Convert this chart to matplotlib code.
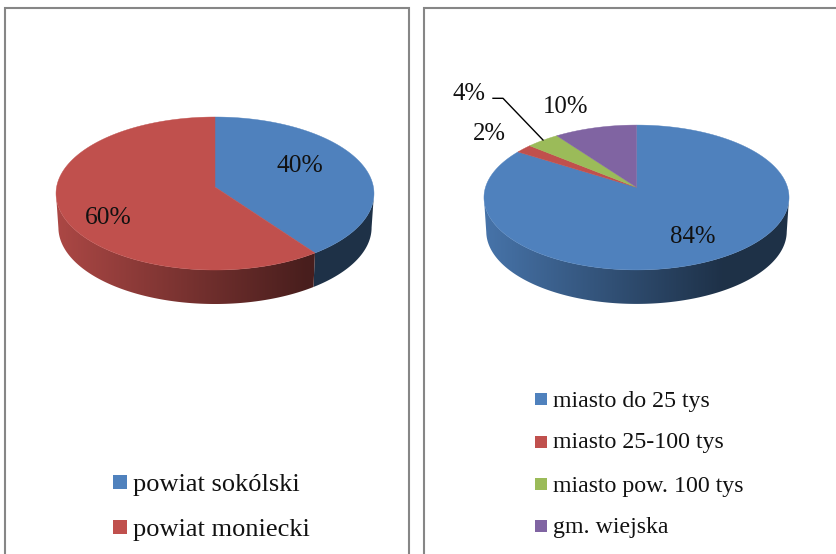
import numpy as np
import matplotlib
matplotlib.use("Agg")
import matplotlib.pyplot as plt
from matplotlib.patches import Polygon, Rectangle

plt.rcParams['font.family'] = ['Liberation Serif', 'DejaVu Serif']

# Data
left_names = ["powiat sokólski", "powiat moniecki"]
left_values = [40, 60]
left_colors = ["#4f81bd", "#c0504d"]

right_names = ["miasto do 25 tys", "miasto 25-100 tys", "miasto pow. 100 tys", "gm. wiejska"]
right_values = [84, 2, 4, 10]
right_colors = ["#4f81bd", "#c0504d", "#9bbb59", "#8064a2"]

W = 837
H = 554
BORDER = "#868686"
DEPTH = 34
BOTTOM_SCALE = 0.985  # lower rim is a bit narrower, perspective

fig = plt.figure(figsize=(W / 100, H / 100), dpi=100, facecolor="white")
# whole figure is one axes in pixel coordinates, y goes down
ax = fig.add_axes([0, 0, 1, 1])


# theta is clockwise from 12 o'clock, a is the perspective tilt
def project(theta, cx, cy, rx, ry, a):
    u = np.sin(theta)
    v = np.cos(theta)
    w = 1 + a * v
    return cx + rx * u / w, cy - ry * v / w


def shade(frac):
    # side wall gets darker to the right, flat after about 3/4 of the width
    return np.interp(frac, [0, 0.78, 1], [0.9, 0.38, 0.38])


def draw_pie(values, colors, cx, cy, rx, ry, a):
    fracs = np.array(values) / sum(values)
    edges = np.concatenate([[0], np.cumsum(fracs)]) * 2 * np.pi
    xmin = cx - rx * 1.02
    xmax = cx + rx * 1.02

    # side walls first
    for i in range(len(values)):
        t = np.linspace(edges[i], edges[i + 1], 400)
        t = t[np.cos(t) <= -a]
        if len(t) < 2:
            continue
        x, y = project(t, cx, cy, rx, ry, a)
        x_low = cx + (x - cx) * BOTTOM_SCALE
        pts = np.column_stack([np.r_[x, x_low[::-1]], np.r_[y, y[::-1] + DEPTH]])
        wall = Polygon(pts, closed=True, facecolor="none", edgecolor="none")
        ax.add_patch(wall)
        base = np.array(matplotlib.colors.to_rgb(colors[i]))
        xs = np.linspace(0, 1, 256)
        grad = shade(xs)[None, :, None] * base[None, None, :]
        im = ax.imshow(grad, extent=[xmin, xmax, cy + ry + DEPTH + 20, cy - ry], aspect="auto", zorder=2)
        im.set_clip_path(wall)

    # top face
    for i in range(len(values)):
        t = np.linspace(edges[i], edges[i + 1], 400)
        x, y = project(t, cx, cy, rx, ry, a)
        pts = np.column_stack([np.r_[cx, x], np.r_[cy, y]])
        ax.add_patch(Polygon(pts, closed=True, facecolor=colors[i], edgecolor=colors[i], linewidth=0.3, zorder=3))


def draw_legend(names, colors, box_x, text_x, tops, bases, box, size):
    for name, col, top, base in zip(names, colors, tops, bases):
        ax.add_patch(Rectangle((box_x, top), box, box, facecolor=col, edgecolor="none", zorder=3))
        ax.text(text_x, base, name, fontsize=size, color="#111111", ha="left", va="baseline", zorder=4)


draw_pie(left_values, left_colors, 215, 187, 158.4, 75.95, 0.085)
draw_pie(right_values, right_colors, 636.5, 187.3, 151, 71, 0.1407)

# data labels
for txt, x, y in [("40%", 300, 166), ("60%", 108, 218)]:
    ax.text(x, y, txt, fontsize=18.4, color="#111111", ha="center", va="center", zorder=4)
for txt, x, y in [("84%", 693, 237), ("10%", 566, 107), ("2%", 489, 134), ("4%", 469, 94)]:
    ax.text(x, y, txt, fontsize=17.8, color="#111111", ha="center", va="center", zorder=4)

# leader line for the 4% label
ax.plot([493, 503, 543], [98.3, 98.3, 140], color="black", lw=1.0, zorder=4)

draw_legend(left_names, left_colors, 113, 132.7, [475, 520], [490.7, 536], 14, 19)
draw_legend(right_names, right_colors, 535, 552.7, [393, 436, 478, 520], [406.7, 448, 492, 533], 12, 17.2)

# panel borders, open at the bottom
ax.plot([5, 5, 409.5, 409.5], [H + 2, 8, 8, H + 2], color=BORDER, lw=1.5, solid_joinstyle="miter", zorder=5)
ax.plot([424.5, 424.5, W + 2], [H + 2, 8, 8], color=BORDER, lw=1.5, solid_joinstyle="miter", zorder=5)

ax.set_xlim(0, W)
ax.set_ylim(H, 0)
ax.axis("off")

fig.savefig("out.png", dpi=100, facecolor="white")
